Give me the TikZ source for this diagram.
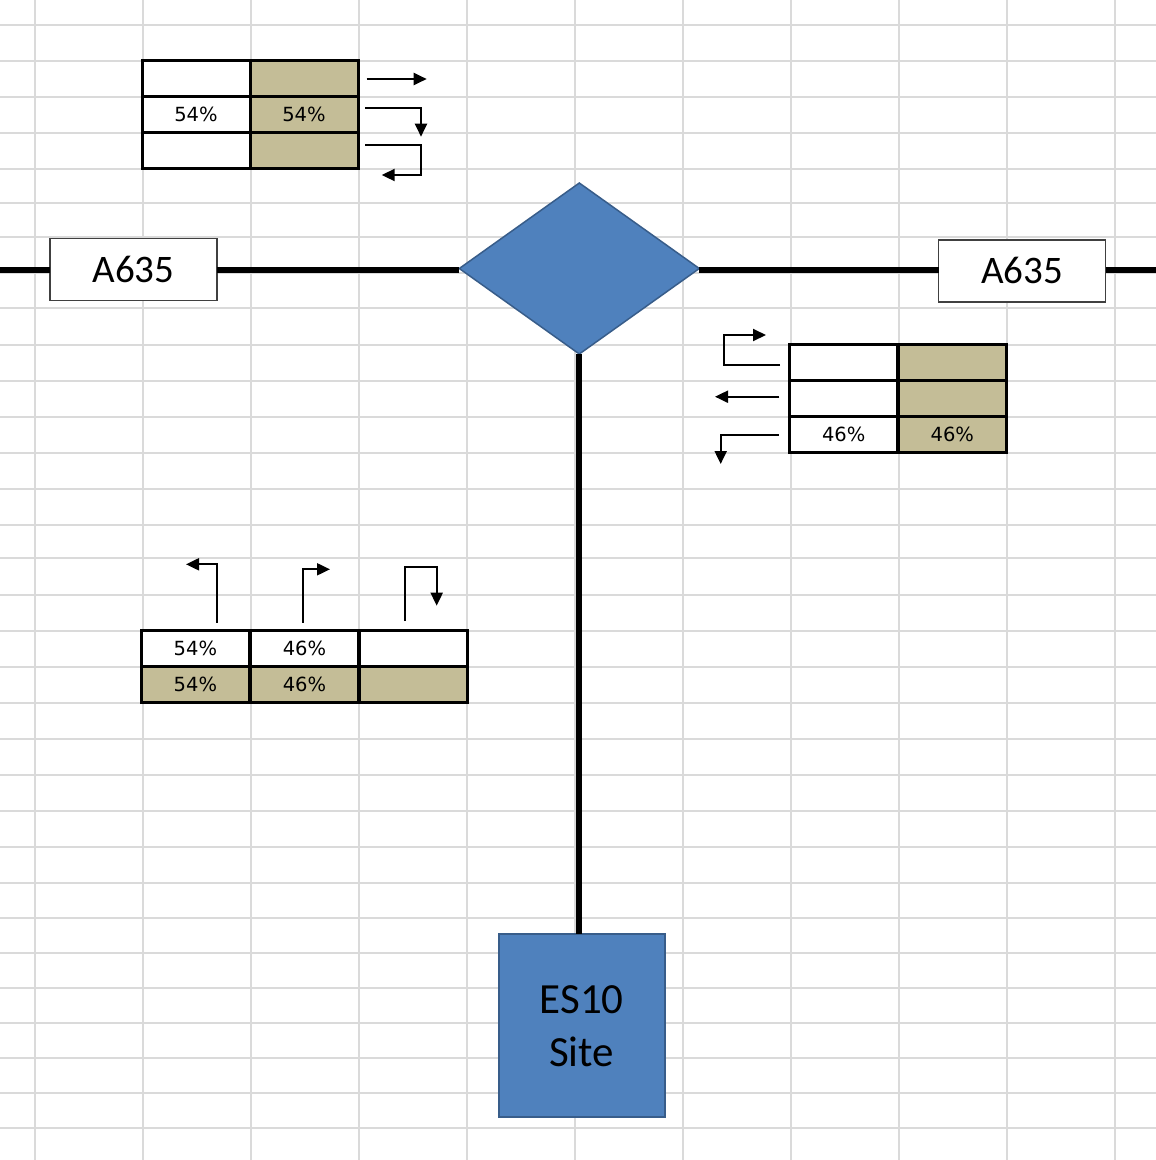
\documentclass[tikz,border=0pt]{standalone}
\usepackage{fontspec}
\newfontfamily\calibfont{Carlito}
\newfontfamily\pctfont{DejaVu Sans}
\usetikzlibrary{shapes.geometric,arrows.meta}
\definecolor{gridgray}{RGB}{218,218,218}
\definecolor{celltan}{RGB}{196,189,151}
\definecolor{shapeblue}{RGB}{79,129,189}
\definecolor{shapeedge}{RGB}{56,93,138}
\tikzset{
  gridline/.style={draw=gridgray,line width=2pt},
  road/.style={draw=black,line width=6pt},
  roadbox/.style={rectangle,draw=black!75,line width=1.6pt,fill=white,minimum width=167pt,minimum height=62pt,inner sep=0pt,outer sep=0pt,font=\calibfont\fontsize{39}{47}\selectfont},
  cellw/.style={rectangle,draw=black,line width=3pt,fill=white,minimum width=108pt,minimum height=36pt,inner sep=0pt,font=\pctfont\fontsize{19.5}{23}\selectfont},
  cellt/.style={cellw,fill=celltan},
  turnarrow/.style={draw=black,line width=2pt,-{Triangle[length=13pt,width=12pt]}},
  bluebox/.style={rectangle,draw=shapeedge,line width=2pt,fill=shapeblue,minimum width=166pt,minimum height=183pt,inner sep=0pt,outer sep=0pt,align=center,font=\calibfont\fontsize{43}{53}\selectfont},
  junction/.style={diamond,draw=shapeedge,line width=1.5pt,fill=shapeblue,minimum width=240pt,minimum height=171pt,inner sep=0pt,outer sep=0pt}
}
\begin{document}
\begin{tikzpicture}[x=1pt,y=-1pt]
\useasboundingbox (0,0) rectangle (1156,1160);
\fill[white] (0,0) rectangle (1156,1160);
% spreadsheet grid
\foreach \gx in {35,143,251,359,467,575,683,791,899,1007,1115}
  \draw[gridline] (\gx,0) -- (\gx,1160);
\foreach \gy in {25,61,97,133,169,203,237,273,308,345,381,417,453,489,525,558,595,631,667,703,739,775,811,847,883,918,953,988,1023,1058,1093,1128}
  \draw[gridline] (0,\gy) -- (1156,\gy);

% main nodes
\node[junction] (J) at (579.3,268.5) {};
\node[roadbox] (A1) at (133.5,269.5) {A635};
\node[roadbox] (A2) at (1022,270.8) {A635};
\node[bluebox] (S) at (581.7,1025.8) {ES10\\Site};
\coordinate (WL) at (0,270);
\coordinate (ER) at (1156,270);

% roads
\draw[road] (WL) -- (WL -| A1.west);
\draw[road] (A1.east |- WL) -- (J.west |- WL);
\draw[road] (J.east |- ER) -- (A2.west |- ER);
\draw[road] (A2.east |- ER) -- (ER);
\draw[road] (J.south) -- (J.south |- S.north);

% top-left table
\node[cellw] (t11) at (196,78.3) {};
\node[cellt] (t12) at (304,78.3) {};
\node[cellw] (t21) at (196,114.5) {54\%};
\node[cellt] (t22) at (304,114.5) {54\%};
\node[cellw] (t31) at (196,150.2) {};
\node[cellt] (t32) at (304,150.2) {};

% right table
\node[cellw] (r11) at (843.7,362.2) {};
\node[cellt] (r12) at (952.3,362.2) {};
\node[cellw] (r21) at (843.7,398.3) {};
\node[cellt] (r22) at (952.3,398.3) {};
\node[cellw] (r31) at (843.7,434.3) {46\%};
\node[cellt] (r32) at (952.3,434.3) {46\%};

% bottom-left table
\node[cellw] (b11) at (195.4,648) {54\%};
\node[cellw] (b12) at (304.5,648) {46\%};
\node[cellw] (b13) at (413.1,648) {};
\node[cellt] (b21) at (195.4,684.7) {54\%};
\node[cellt] (b22) at (304.5,684.7) {46\%};
\node[cellt] (b23) at (413.1,684.7) {};

% turning arrows, top-left table
\coordinate (ta1) at (366.7,79);
\coordinate (ta2) at (365,108.3);
\coordinate (ta3) at (365,145);
\draw[turnarrow] (ta1) -- ++(60,0);
\draw[turnarrow] (ta2) -- ++(56,0) -- ++(0,28.4);
\draw[turnarrow] (ta3) -- ++(56,0) -- ++(0,30) -- ++(-39.3,0);

% turning arrows, right table
\coordinate (ra1) at (780,365);
\coordinate (ra2) at (779.3,396.7);
\coordinate (ra3) at (778.7,435);
\draw[turnarrow] (ra1) -- ++(-55.7,0) -- ++(0,-30) -- ++(41.7,0);
\draw[turnarrow] (ra2) -- ++(-64.3,0);
\draw[turnarrow] (ra3) -- ++(-58,0) -- ++(0,29);

% turning arrows, bottom-left table
\coordinate (ba1) at (217.3,622.7);
\coordinate (ba2) at (302.7,622.7);
\coordinate (ba3) at (405,621);
\draw[turnarrow] (ba1) -- ++(0,-58.4) -- ++(-31.3,0);
\draw[turnarrow] (ba2) -- ++(0,-53.4) -- ++(27.3,0);
\draw[turnarrow] (ba3) -- ++(0,-53.7) -- ++(31.7,0) -- ++(0,38.4);
\end{tikzpicture}
\end{document}
